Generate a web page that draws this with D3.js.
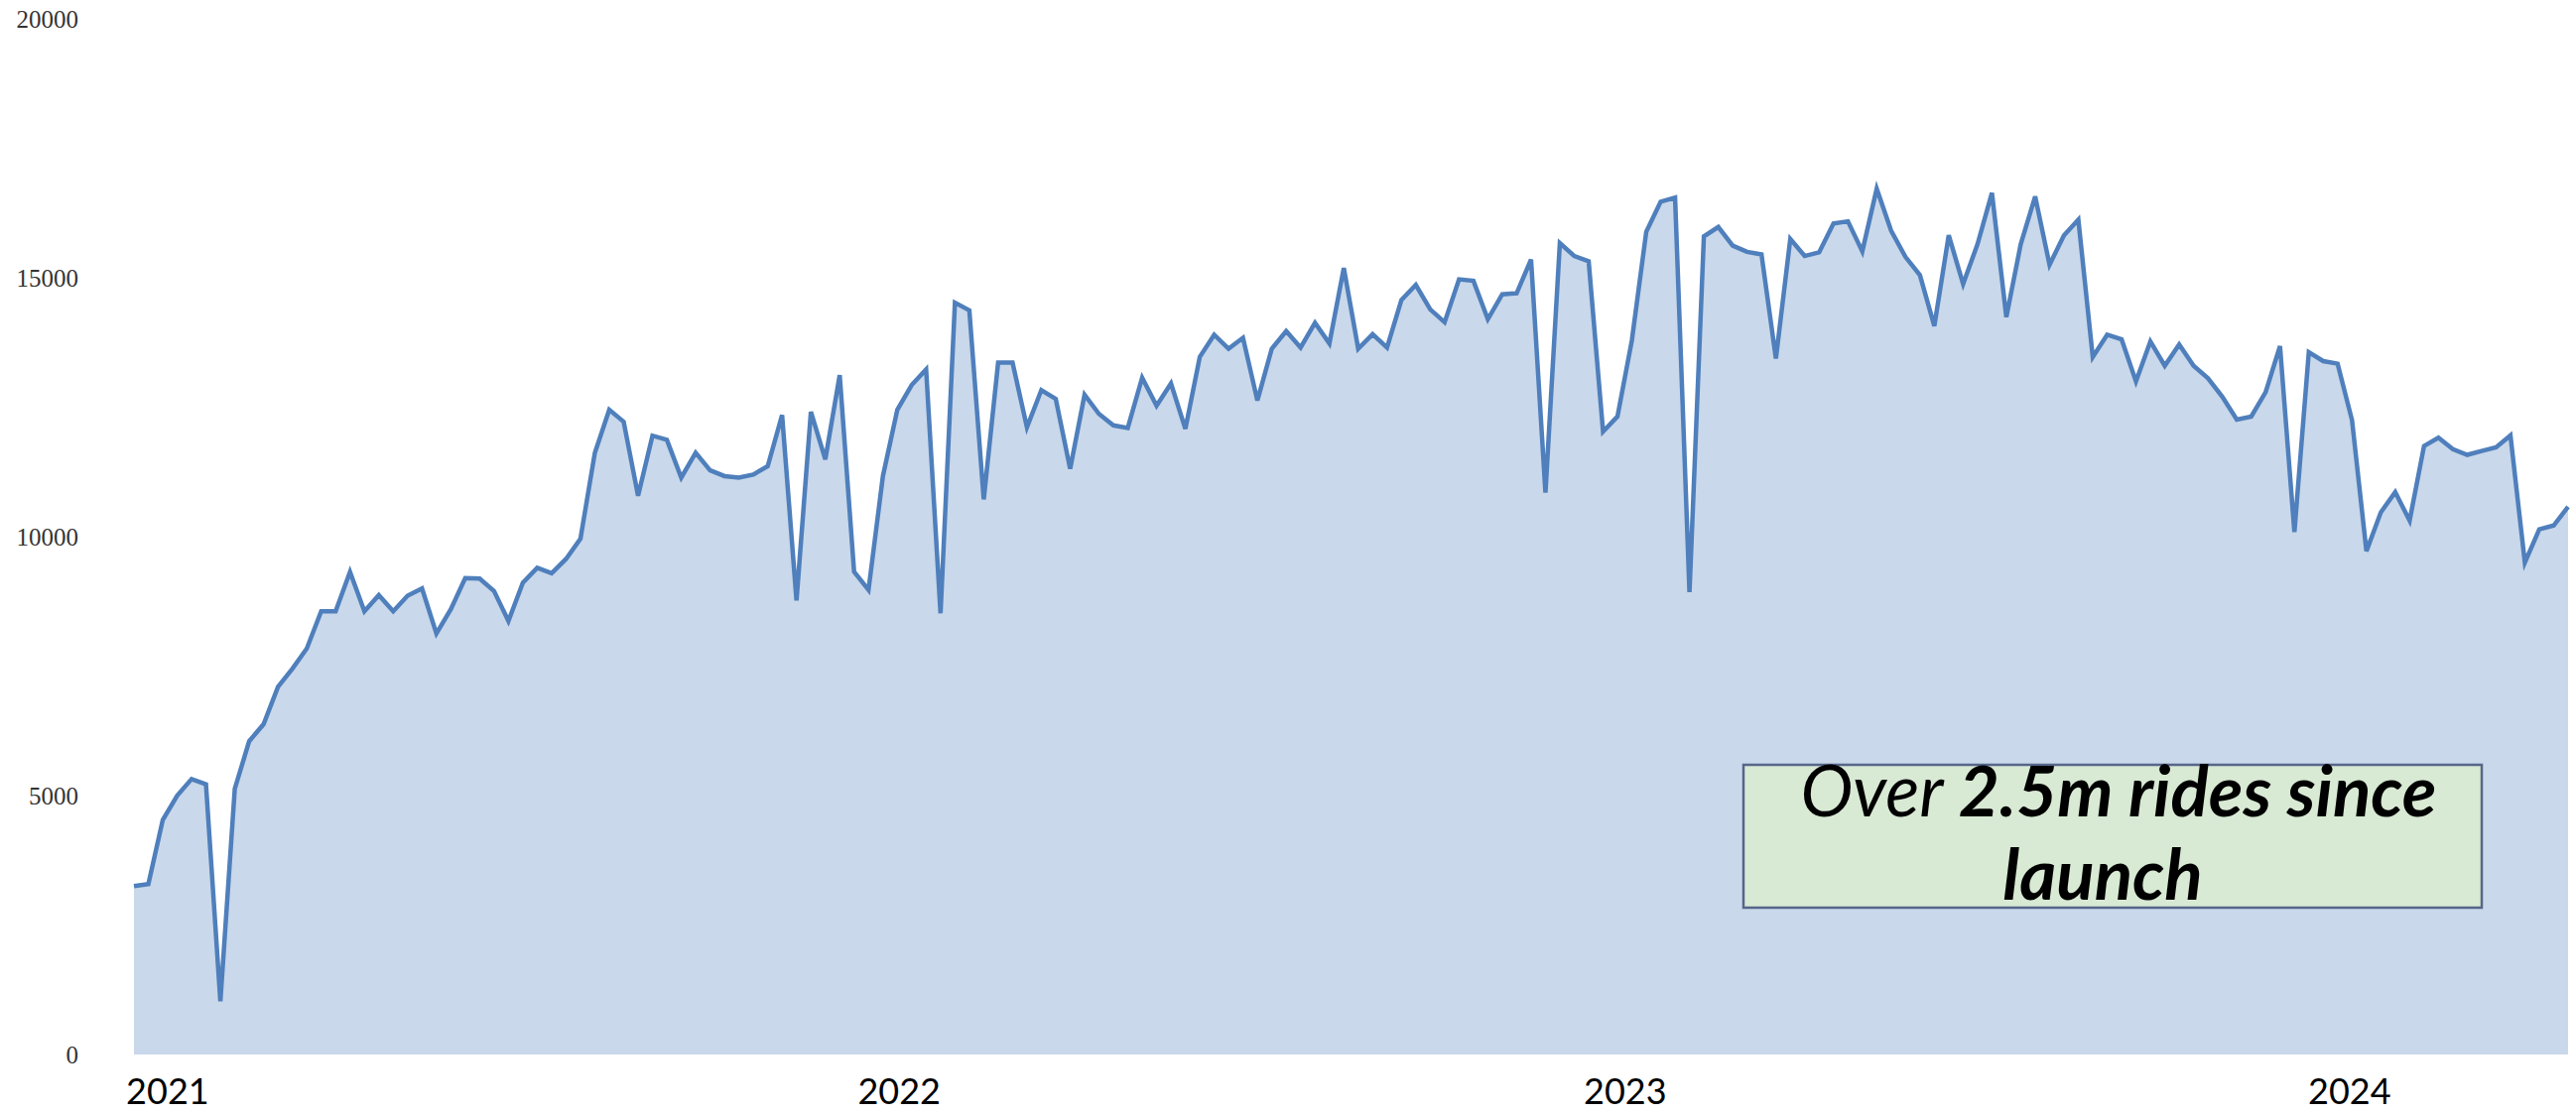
<!DOCTYPE html>
<html>
<head>
<meta charset="utf-8">
<script src="https://d3js.org/d3.v7.min.js"></script>
<style>
  html, body { margin: 0; padding: 0; background: #fff; }
  svg { display: block; }
</style>
</head>
<body>
<svg id="chart"></svg>
<script>

// weekly ride counts (one value per week)
var weeklyRides = [
  3250, 3290, 4530, 5000, 5320, 5220, 1030, 5130, 6050, 6380,
  7100, 7450, 7840, 8560, 8560, 9320, 8560, 8870, 8560, 8860,
  9000, 8130, 8600, 9200, 9190, 8950, 8370, 9110, 9400, 9295,
  9570, 9960, 11620, 12450, 12220, 10790, 11950, 11870, 11140, 11620,
  11280, 11170, 11140, 11200, 11360, 12350, 8770, 12410, 11490, 13120,
  9320, 8970, 11170, 12450, 12930, 13230, 8520, 14520, 14370, 10720,
  13360, 13360, 12110, 12830, 12660, 11310, 12740, 12370, 12150, 12100,
  13070, 12530, 12960, 12080, 13470, 13900, 13630, 13840, 12630, 13630,
  13970, 13650, 14130, 13730, 15190, 13630, 13910, 13650, 14570, 14860,
  14390, 14140, 14970, 14940, 14200, 14680, 14700, 15350, 10850, 15670,
  15420, 15320, 12030, 12320, 13790, 15890, 16470, 16550, 8930, 15800,
  15980, 15620, 15500, 15450, 13440, 15750, 15420, 15490, 16050, 16090,
  15510, 16720, 15910, 15400, 15050, 14070, 15820, 14880, 15650, 16640,
  14240, 15650, 16570, 15250, 15820, 16120, 13470, 13900, 13810, 13000,
  13770, 13300, 13710, 13300, 13060, 12700, 12260, 12320, 12790, 13680,
  10090, 13560, 13390, 13340, 12250, 9720, 10470, 10860, 10310, 11750,
  11910, 11690, 11580, 11655, 11725, 11955, 9500, 10140, 10215, 10575
];

// year labels and the week each one sits under
var yearLabels = ['2021', '2022', '2023', '2024'];
var yearLabelWeek = [2.3, 53.1, 103.5, 153.8];

// y axis tick values
var yTicks = [0, 5000, 10000, 15000, 20000];

// callout text
var calloutPlain = 'Over ';
var calloutBold = '2.5m rides since';
var calloutLine2 = 'launch';


var width = 2596;
var height = 1122;

var svg = d3.select('#chart')
  .attr('width', width)
  .attr('height', height);

svg.append('rect')
  .attr('width', width)
  .attr('height', height)
  .attr('fill', '#fff');

// plot area edges (NOTE: can't call these top/left, window.top is read only)
var plotLeft = 135, plotRight = 2588, plotBottom = 1063, plotTop = 19;

var x = d3.scaleLinear()
  .domain([0, weeklyRides.length - 1])
  .range([plotLeft, plotRight]);

var y = d3.scaleLinear()
  .domain([0, 20000])
  .range([plotBottom, plotTop]);

// filled area under the line
var area = d3.area()
  .x(function(d, i) { return x(i); })
  .y0(y(0))
  .y1(function(d) { return y(d); });

svg.append('path')
  .datum(weeklyRides)
  .attr('d', area)
  .attr('fill', '#c9d8ea');

var line = d3.line()
  .x(function(d, i) { return x(i); })
  .y(function(d) { return y(d); });

svg.append('path')
  .datum(weeklyRides)
  .attr('d', line)
  .attr('fill', 'none')
  .attr('stroke', '#4f7fbc')
  .attr('stroke-width', 4.5)
  .attr('stroke-linejoin', 'miter');

// y axis - labels only, no lines
var yAxis = svg.append('g')
  .attr('transform', 'translate(85,0)')
  .call(d3.axisLeft(y).tickValues(yTicks).tickSize(0).tickPadding(6).tickFormat(d3.format('d')));

yAxis.select('.domain').remove();
yAxis.selectAll('text')
  .attr('font-family', '"Liberation Serif", "Times New Roman", serif')
  .attr('font-size', 25)
  .attr('fill', '#333');

// x axis - year labels
var xAxis = svg.append('g')
  .attr('transform', 'translate(0,' + plotBottom + ')')
  .call(d3.axisBottom(x)
    .tickValues(yearLabelWeek)
    .tickSize(0)
    .tickPadding(24)
    .tickFormat(function(d, i) { return yearLabels[i]; }));

xAxis.select('.domain').remove();
xAxis.selectAll('text')
  .attr('font-family', 'Lato, "Open Sans", sans-serif')
  .attr('font-size', 36)
  .attr('fill', '#000');

// callout box
var box = svg.append('g');

box.append('rect')
  .attr('x', 1757)
  .attr('y', 771)
  .attr('width', 744)
  .attr('height', 144)
  .attr('fill', '#d8e9d4')
  .attr('stroke', '#56668a')
  .attr('stroke-width', 2.5);

var line1 = box.append('text')
  .attr('x', 2135)
  .attr('y', 823)
  .attr('text-anchor', 'middle')
  .attr('font-family', 'Lato, "Open Sans", sans-serif')
  .attr('font-style', 'italic')
  .attr('font-size', 70)
  .attr('fill', '#000')
  .attr('xml:space', 'preserve');

line1.append('tspan')
  .attr('font-weight', 'normal')
  .text(calloutPlain);

line1.append('tspan')
  .attr('font-weight', 'bold')
  .text(calloutBold);

// shrink the font so the first line spans the same width as the picture
var w = line1.node().getComputedTextLength();
var fontSize = 70 * 641 / w;
line1.attr('font-size', fontSize);

box.append('text')
  .attr('x', 2119)
  .attr('y', 907)
  .attr('text-anchor', 'middle')
  .attr('font-family', 'Lato, "Open Sans", sans-serif')
  .attr('font-style', 'italic')
  .attr('font-weight', 'bold')
  .attr('font-size', fontSize)
  .attr('fill', '#000')
  .text(calloutLine2);

</script>
</body>
</html>
